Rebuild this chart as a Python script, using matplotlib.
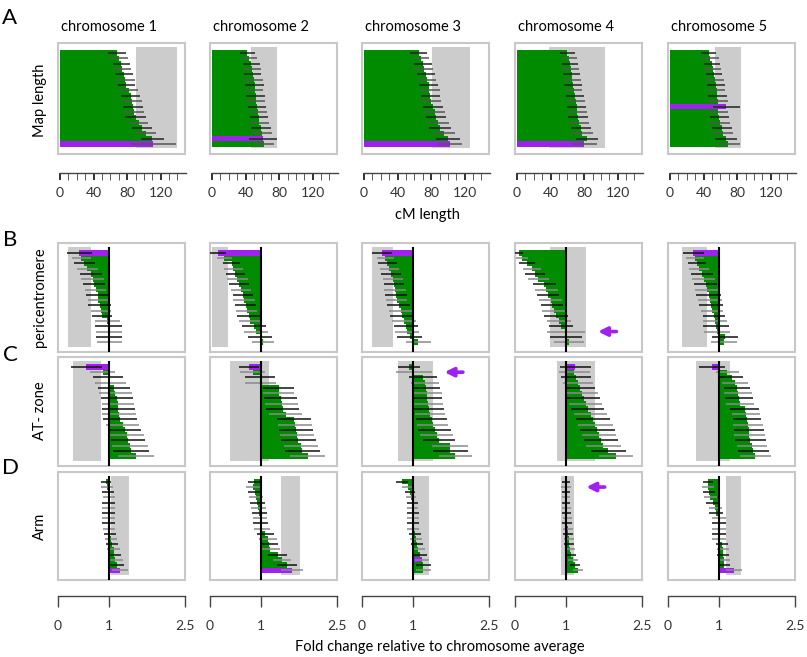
import matplotlib
matplotlib.use("Agg")
import matplotlib.pyplot as plt
from matplotlib.ticker import MultipleLocator, FixedLocator

plt.rcParams["font.family"] = ["Lato", "DejaVu Sans"]

W, H = 807, 657
GREEN = "#008B00"
PURPLE = "#A020F0"
BAND = "#CCCCCC"
FRAME = "#C8C8C8"

chromosomes = ["chromosome 1", "chromosome 2", "chromosome 3", "chromosome 4", "chromosome 5"]
row_names = ["Map length", "pericentromere", "AT- zone", "Arm"]
row_letters = ["A", "B", "C", "D"]

# ── A: map length (cM), rows top to bottom ───────────────
len_chr1 = [68, 70, 73, 74, 76, 78, 79, 82, 84, 86, 87, 88, 90, 94, 98, 102, 110, 111]
len_chr2 = [42, 44, 46.6, 47.8, 48.6, 49.4, 50.6, 50.6, 51.8, 52.6, 53.3, 54.5, 55.7, 56.5, 58.4, 59.2, 61, 62.3]
len_chr3 = [65, 68, 70, 72, 74, 75, 77, 78, 79, 80, 82, 84, 86, 88, 91, 95, 100, 102]
len_chr4 = [60, 62, 63, 64, 65, 66, 67, 68, 69, 70, 71, 72, 73, 74, 76, 78, 83, 80]
len_chr5 = [46, 48, 50, 51, 52.5, 53.7, 55, 55.7, 56.5, 57.6, 67, 57.6, 58.8, 59.6, 61.6, 63.5, 66.7, 69.4]
len_err1 = [11, 11, 10, 10, 11, 11, 10, 11, 11, 12, 12, 12, 12, 11, 12, 12, 14, 27]
len_err2 = [9, 10, 10, 10, 10, 11, 11, 10, 11, 10, 11, 11, 11, 11, 12, 12, 17, 12]
len_err3 = [10, 10, 11, 10, 11, 11, 11, 12, 11, 12, 12, 12, 12, 13, 13, 13, 14, 15]
len_err4 = [9, 9, 10, 10, 10, 10, 11, 10, 11, 11, 11, 11, 12, 12, 12, 13, 13, 15]
len_err5 = [9, 10, 10, 10, 10, 11, 11, 10, 11, 11, 16, 11, 11, 12, 12, 12, 13, 14]
len_purple = [17, 16, 17, 17, 10]
len_band = [(91, 140), (47, 78), (81, 126), (38, 105), (54, 84)]

# ── B: pericentromere fold change ────────────────────────
peri_chr1 = [0.42, 0.46, 0.52, 0.58, 0.65, 0.68, 0.71, 0.74, 0.78, 0.79, 0.82, 0.84, 0.87, 0.97, 0.99, 1.0, 1.0, 1.01]
peri_chr2 = [0.15, 0.28, 0.43, 0.46, 0.5, 0.54, 0.57, 0.61, 0.65, 0.67, 0.70, 0.72, 0.76, 0.79, 0.87, 0.9, 0.98, 1.04]
peri_chr3 = [0.39, 0.46, 0.5, 0.54, 0.57, 0.61, 0.63, 0.65, 0.67, 0.68, 0.72, 0.76, 0.79, 0.83, 0.87, 0.89, 0.94, 1.11]
peri_chr4 = [0.07, 0.13, 0.23, 0.33, 0.39, 0.46, 0.58, 0.62, 0.65, 0.7, 0.73, 0.76, 0.81, 0.87, 0.9, 1.0, 1.0, 1.06]
peri_chr5 = [0.5, 0.53, 0.57, 0.61, 0.67, 0.7, 0.74, 0.76, 0.8, 0.83, 0.85, 0.87, 0.91, 0.92, 0.95, 0.97, 1.12, 1.1]
peri_err1 = [0.24, 0.19, 0.2, 0.2, 0.22, 0.22, 0.22, 0.2, 0.22, 0.2, 0.22, 0.2, 0.2, 0.25, 0.27, 0.26, 0.26, 0.25]
peri_err2 = [0.16, 0.15, 0.17, 0.18, 0.18, 0.2, 0.2, 0.2, 0.2, 0.21, 0.21, 0.21, 0.22, 0.22, 0.24, 0.24, 0.24, 0.22]
peri_err3 = [0.2, 0.17, 0.18, 0.18, 0.2, 0.2, 0.2, 0.22, 0.22, 0.21, 0.22, 0.22, 0.23, 0.23, 0.24, 0.24, 0.25, 0.24]
peri_err4 = [0.08, 0.12, 0.16, 0.18, 0.2, 0.2, 0.22, 0.22, 0.22, 0.22, 0.22, 0.22, 0.24, 0.24, 0.24, 0.37, 0.32, 0.3]
peri_err5 = [0.2, 0.17, 0.17, 0.2, 0.22, 0.22, 0.22, 0.22, 0.24, 0.24, 0.24, 0.22, 0.22, 0.24, 0.26, 0.26, 0.26, 0.26]
peri_purple = [0, 0, 0, 15, 0]
peri_band = [(0.2, 0.65), (0.04, 0.36), (0.2, 0.62), (0.68, 1.4), (0.28, 0.77)]

# ── C: AT-zone fold change ───────────────────────────────
at_chr1 = [0.56, 0.88, 0.98, 1.03, 1.1, 1.13, 1.16, 1.18, 1.19, 1.2, 1.22, 1.27, 1.31, 1.35, 1.38, 1.42, 1.44, 1.53]
at_chr2 = [0.77, 0.84, 0.98, 0.99, 1.35, 1.35, 1.39, 1.41, 1.43, 1.49, 1.65, 1.67, 1.69, 1.71, 1.74, 1.79, 1.82, 1.92]
at_chr3 = [0.92, 1.02, 1.2, 1.24, 1.26, 1.28, 1.28, 1.3, 1.32, 1.34, 1.37, 1.39, 1.43, 1.47, 1.52, 1.73, 1.74, 1.84]
at_chr4 = [1.19, 1.17, 1.2, 1.24, 1.28, 1.32, 1.35, 1.39, 1.43, 1.49, 1.54, 1.58, 1.62, 1.65, 1.69, 1.74, 1.84, 1.99]
at_chr5 = [0.87, 1.17, 1.25, 1.32, 1.36, 1.38, 1.4, 1.42, 1.51, 1.53, 1.55, 1.57, 1.59, 1.6, 1.62, 1.65, 1.68, 1.72]
at_err1 = [0.3, 0.25, 0.3, 0.3, 0.32, 0.32, 0.32, 0.32, 0.32, 0.33, 0.33, 0.33, 0.33, 0.34, 0.34, 0.35, 0.35, 0.35]
at_err2 = [0.2, 0.25, 0.3, 0.3, 0.3, 0.3, 0.32, 0.32, 0.32, 0.33, 0.33, 0.33, 0.33, 0.33, 0.34, 0.34, 0.34, 0.35]
at_err3 = [0.22, 0.35, 0.28, 0.28, 0.28, 0.3, 0.3, 0.3, 0.3, 0.3, 0.3, 0.3, 0.32, 0.32, 0.32, 0.35, 0.34, 0.33]
at_err4 = [0.3, 0.3, 0.3, 0.3, 0.3, 0.32, 0.32, 0.32, 0.33, 0.33, 0.33, 0.34, 0.34, 0.34, 0.34, 0.35, 0.34, 0.33]
at_err5 = [0.25, 0.22, 0.22, 0.25, 0.25, 0.27, 0.27, 0.27, 0.28, 0.28, 0.28, 0.3, 0.3, 0.3, 0.3, 0.3, 0.3, 0.3]
at_purple = [0, 0, 1, 0, 0]
at_band = [(0.29, 0.84), (0.39, 1.17), (0.71, 1.39), (0.83, 1.58), (0.56, 1.23)]

# ── D: arm fold change ───────────────────────────────────
arm_chr1 = [0.95, 0.97, 0.99, 1.0, 1.0, 1.0, 1.0, 1.0, 1.0, 1.01, 1.02, 1.05, 1.07, 1.1, 1.11, 1.13, 1.16, 1.22]
arm_chr2 = [0.86, 0.84, 0.88, 0.9, 0.93, 0.95, 0.97, 0.99, 1.0, 1.03, 1.09, 1.14, 1.16, 1.19, 1.33, 1.42, 1.51, 1.61]
arm_chr3 = [0.79, 0.9, 0.95, 0.97, 1.0, 1.0, 1.0, 1.0, 1.0, 1.0, 1.05, 1.07, 1.08, 1.11, 1.14, 1.18, 1.21, 1.21]
arm_chr4 = [1.0, 1.01, 1.0, 1.01, 1.01, 1.02, 1.02, 1.03, 1.03, 1.04, 1.05, 1.06, 1.07, 1.09, 1.11, 1.14, 1.18, 1.24]
arm_chr5 = [0.79, 0.79, 0.8, 0.83, 0.88, 0.93, 0.95, 1.0, 1.0, 1.0, 1.0, 1.0, 1.07, 1.08, 1.09, 1.1, 1.11, 1.3]
arm_err1 = [0.1, 0.12, 0.12, 0.12, 0.13, 0.13, 0.13, 0.13, 0.13, 0.12, 0.12, 0.12, 0.12, 0.13, 0.13, 0.14, 0.14, 0.16]
arm_err2 = [0.12, 0.14, 0.14, 0.14, 0.15, 0.15, 0.15, 0.14, 0.15, 0.16, 0.17, 0.17, 0.17, 0.18, 0.18, 0.18, 0.2, 0.22]
arm_err3 = [0.12, 0.12, 0.1, 0.1, 0.11, 0.11, 0.12, 0.12, 0.12, 0.12, 0.12, 0.12, 0.12, 0.13, 0.13, 0.13, 0.14, 0.14]
arm_err4 = [0.08, 0.1, 0.08, 0.08, 0.08, 0.09, 0.09, 0.09, 0.1, 0.1, 0.1, 0.1, 0.1, 0.1, 0.1, 0.1, 0.1, 0.1]
arm_err5 = [0.1, 0.12, 0.12, 0.13, 0.13, 0.13, 0.14, 0.14, 0.14, 0.14, 0.14, 0.14, 0.12, 0.12, 0.12, 0.12, 0.12, 0.16]
arm_purple = [17, 17, 15, 1, 17]
arm_band = [(1.04, 1.4), (1.4, 1.77), (1.0, 1.32), (0.91, 1.17), (1.14, 1.44)]

# arrows: (row, column, bar index)
arrows = [(1, 3, 15), (2, 2, 1), (3, 3, 1)]

rows = [
    ([len_chr1, len_chr2, len_chr3, len_chr4, len_chr5],
     [len_err1, len_err2, len_err3, len_err4, len_err5], len_purple, len_band),
    ([peri_chr1, peri_chr2, peri_chr3, peri_chr4, peri_chr5],
     [peri_err1, peri_err2, peri_err3, peri_err4, peri_err5], peri_purple, peri_band),
    ([at_chr1, at_chr2, at_chr3, at_chr4, at_chr5],
     [at_err1, at_err2, at_err3, at_err4, at_err5], at_purple, at_band),
    ([arm_chr1, arm_chr2, arm_chr3, arm_chr4, arm_chr5],
     [arm_err1, arm_err2, arm_err3, arm_err4, arm_err5], arm_purple, arm_band),
]

# layout in pixels
col_left = [58, 210, 362, 515, 668]
panel_w = 127
row_top = [43, 243, 357, 472]
row_h = [111, 109, 109, 108]


def px_box(left, top, w, h):
    return [left / W, 1 - (top + h) / H, w / W, h / H]


fig = plt.figure(figsize=(W / 100, H / 100), dpi=100)

for r, (vals_all, errs_all, purple_all, band_all) in enumerate(rows):
    for c in range(5):
        vals = vals_all[c]
        errs = errs_all[c]
        n = len(vals)
        ax = fig.add_axes(px_box(col_left[c], row_top[r], panel_w, row_h[r]))
        base = 0 if r == 0 else 1
        if r == 0:
            ax.set_xlim(-2.5, 149)
        else:
            ax.set_xlim(0, 2.5)
        ax.set_ylim(n - 0.5 + 1.4, -0.5 - 1.4)

        lo, hi = band_all[c]
        ax.axvspan(lo, hi, ymin=0.05, ymax=0.96, color=BAND, lw=0, zorder=1)

        ys = list(range(n))
        colors = [PURPLE if i == purple_all[c] else GREEN for i in ys]
        ax.barh(ys, [v - base for v in vals], left=base, height=1.0,
                color=colors, edgecolor="none", zorder=2)

        for i in ys:
            if r == 0:
                ecol = "#222222" if i % 2 == 0 else "#555555"
            else:
                ecol = "#111111" if i % 2 == 0 else "#8a8a8a"
            ax.hlines(i, vals[i] - errs[i], vals[i] + errs[i],
                      color=ecol, lw=1.1, zorder=3)

        if r > 0:
            ax.vlines(1, -1.2, n - 0.5 + 1.4, color="black", lw=1.5, zorder=4)

        for (ar, ac, ai) in arrows:
            if ar == r and ac == c:
                x0 = max(hi, vals[ai] + errs[ai])
                ax.annotate("", xy=(x0 + 0.18, ai), xytext=(x0 + 0.65, ai),
                            arrowprops=dict(arrowstyle="-|>", color=PURPLE,
                                            lw=2.6, mutation_scale=13),
                            annotation_clip=False, zorder=5)

        ax.set_xticks([])
        ax.set_yticks([])
        for s in ax.spines.values():
            s.set_color(FRAME)
            s.set_linewidth(1.5)

        if r == 0:
            fig.text((col_left[c] + 3) / W, 1 - 27 / H, chromosomes[c],
                     ha="left", va="center", fontsize=10.5)

# scale axes
for c in range(5):
    sa = fig.add_axes(px_box(col_left[c], 172, panel_w, 1))
    sa.set_xlim(-2.5, 149)
    for k in ["top", "left", "right"]:
        sa.spines[k].set_visible(False)
    sa.spines["bottom"].set_bounds(0, 150)
    sa.spines["bottom"].set_color("#444444")
    sa.spines["bottom"].set_linewidth(1.0)
    sa.set_yticks([])
    sa.xaxis.set_major_locator(FixedLocator([0, 40, 80, 120]))
    sa.xaxis.set_minor_locator(MultipleLocator(10))
    sa.tick_params(axis="x", which="major", length=5, width=1.3, color="#222222",
                   labelsize=10, pad=5, labelcolor="#333333")
    sa.tick_params(axis="x", which="minor", length=5, width=0.7, color="#555555")
    sa.patch.set_alpha(0)

    fa = fig.add_axes(px_box(col_left[c], 595, panel_w, 1))
    fa.set_xlim(0, 2.5)
    for k in ["top", "left", "right"]:
        fa.spines[k].set_visible(False)
    fa.spines["bottom"].set_color("#444444")
    fa.spines["bottom"].set_linewidth(1.0)
    fa.set_yticks([])
    fa.set_xticks([0, 1, 2.5])
    fa.set_xticklabels(["0", "1", "2.5"])
    fa.tick_params(axis="x", length=8, width=1.0, color="#444444",
                   labelsize=10, pad=9, labelcolor="#333333")
    fa.patch.set_alpha(0)

fig.text(427 / W, 1 - 215 / H, "cM length", ha="center", va="center", fontsize=10.5)
fig.text(440 / W, 1 - 647 / H, "Fold change relative to chromosome average",
         ha="center", va="center", fontsize=10.5)

label_y = [100, 297, 411, 526]
for r in range(4):
    fig.text(40 / W, 1 - label_y[r] / H, row_names[r], rotation=90,
             ha="center", va="center", fontsize=10.5)

letter_y = [18, 240, 355, 468]
for r in range(4):
    fig.text(10 / W, 1 - letter_y[r] / H, row_letters[r],
             ha="center", va="center", fontsize=16)

plt.savefig("out.png", dpi=100)
plt.close()
